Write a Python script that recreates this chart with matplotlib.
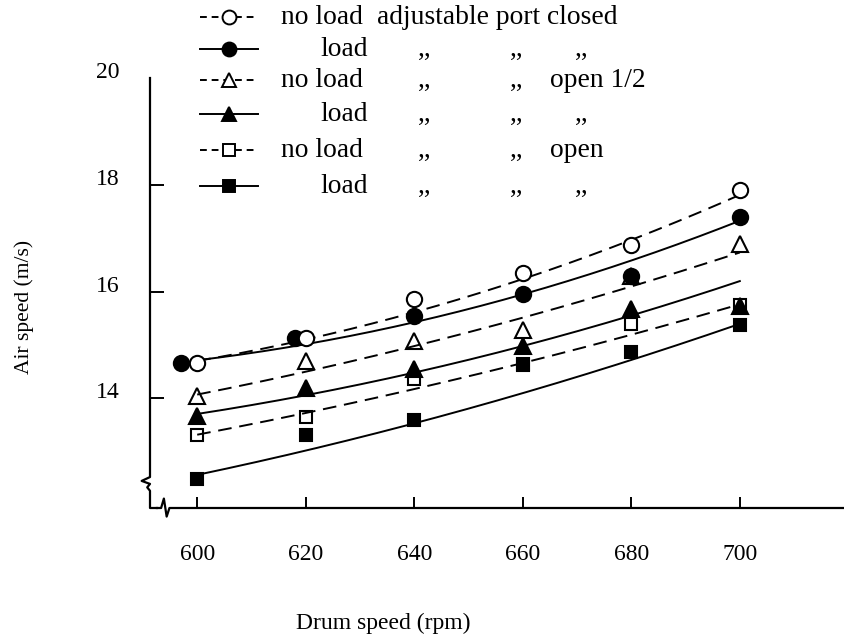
import matplotlib
matplotlib.use("Agg")
import matplotlib.pyplot as plt
from matplotlib.lines import Line2D
import numpy as np

plt.rcParams['font.family'] = ['Liberation Serif', 'DejaVu Serif']

# drum speed (rpm)
rpm = [600, 620, 640, 660, 680, 700]
# filled circles were drawn a bit left where they overlap the open ones
rpm_load_closed = [597, 618, 640, 660, 680, 700]

# measured air speed (m/s)
noload_closed = [14.67, 15.13, 15.86, 16.35, 16.88, 17.90]
load_closed = [14.67, 15.13, 15.54, 15.95, 16.30, 17.40]
noload_half = [14.05, 14.71, 15.08, 15.28, 16.30, 16.89]
load_half = [13.67, 14.19, 14.56, 14.99, 15.67, 15.73]
noload_open = [13.31, 13.65, 14.37, 14.65, 15.39, 15.75]
load_open = [12.49, 13.31, 13.59, 14.63, 14.87, 15.38]

# fitted curves at each drum speed
fit_noload_closed = [14.67, 15.12, 15.70, 16.22, 16.85, 17.88]
fit_load_closed = [14.67, 15.08, 15.46, 15.93, 16.50, 17.38]
fit_noload_half = [14.06, 14.52, 14.99, 15.51, 16.07, 16.75]
fit_load_half = [13.68, 14.09, 14.55, 14.92, 15.52, 16.23]
fit_noload_open = [13.34, 13.68, 14.21, 14.68, 15.17, 15.77]
fit_load_open = [12.60, 12.97, 13.53, 14.15, 14.71, 15.39]

W, H = 844, 641
fig = plt.figure(figsize=(W / 100, H / 100), dpi=100)
ax = fig.add_axes([150 / W, 1 - 508 / H, 694 / W, 430 / H])
ax.set_xlim(591.3, 719.2)
ax.set_ylim(11.95, 19.95)

dash = (7, 4)
series = [
    # x, points, fit, marker, filled, dashed
    (rpm, noload_half, fit_noload_half, '^', False, True),
    (rpm, noload_open, fit_noload_open, 's', False, True),
    (rpm_load_closed, load_closed, fit_load_closed, 'o', True, False),
    (rpm, noload_closed, fit_noload_closed, 'o', False, True),
    (rpm, load_half, fit_load_half, '^', True, False),
    (rpm, load_open, fit_load_open, 's', True, False),
]

xs = np.linspace(600, 700, 200)
for x, pts, fit, mk, filled, dashed in series:
    coef = np.polyfit(rpm, fit, 2)
    if dashed:
        ax.plot(xs, np.polyval(coef, xs), color='black', lw=1.4, dashes=dash, zorder=2)
    else:
        ax.plot(xs, np.polyval(coef, xs), color='black', lw=1.4, zorder=2)
    ms = 8.5 if mk == 's' else 11
    if mk == 's' and not filled:
        ms = 9
    ax.plot(x, pts, ls='none', marker=mk, ms=ms, mew=1.5, mec='black',
            mfc='black' if filled else ('white' if mk == 'o' else 'none'), zorder=3)

# axes styling
for s in ['top', 'right', 'left', 'bottom']:
    ax.spines[s].set_visible(False)
ax.set_xticks(rpm)
ax.set_yticks([14, 16, 18, 20])
ax.tick_params(axis='x', direction='in', length=8, width=1.4, pad=26, labelsize=17)
ax.tick_params(axis='y', direction='in', length=10, width=1.4, pad=22, labelsize=17)
for lab in ax.get_yticklabels():
    lab.set_verticalalignment('baseline')
ax.yaxis.get_major_ticks()[-1].tick1line.set_visible(False)

# axis lines with the break marks
ta = ax.transAxes
ax.plot([0, 0, -0.012, 0.0, -0.004, 0, 0, 0.010], [1, 0.072, 0.063, 0.056, 0.048, 0.040, 0, 0],
        color='black', lw=1.6, transform=ta, clip_on=False)
ax.plot([0.010, 0.016, 0.020, 0.024, 0.028, 1.0], [0, 0, 0.022, -0.02, 0, 0],
        color='black', lw=1.6, transform=ta, clip_on=False)

# axis titles
fig.text(383 / W, 1 - 623 / H, 'Drum speed (rpm)', ha='center', va='center', fontsize=17)
fig.text(24 / W, 1 - 307 / H, 'Air speed (m/s)', ha='center', va='center',
         rotation=90, fontsize=15.5)

# legend, drawn row by row to keep the column layout
leg_rows = [
    ('o', False, 'no load', 'adjustable port closed', None, None),
    ('o', True, 'load', ',,', ',,', ',,'),
    ('^', False, 'no load', ',,', ',,', 'open 1/2'),
    ('^', True, 'load', ',,', ',,', ',,'),
    ('s', False, 'no load', ',,', ',,', 'open'),
    ('s', True, 'load', ',,', ',,', ',,'),
]
row_y = [17, 49, 80, 114, 150, 186]
fs = 19.8
for (mk, filled, c1, c2, c3, c4), y in zip(leg_rows, row_y):
    fy = 1 - y / H
    line = Line2D([200 / W, 258 / W], [fy, fy], transform=fig.transFigure, color='black',
                  lw=1.4, marker=None)
    if not filled:
        line.set_dashes((3.5, 2.5))
    fig.add_artist(line)
    ms = 8 if mk == 's' else 10
    fig.add_artist(Line2D([229 / W], [fy], transform=fig.transFigure, ls='none', marker=mk,
                          ms=ms, mew=1.4, mec='black', mfc='black' if filled else 'white'))
    fb = 1 - (y + 7) / H
    if filled:
        fig.text(320 / W, fb, c1, va='baseline', fontsize=fs)
    else:
        fig.text(281 / W, fb, c1, va='baseline', fontsize=fs)
    if c3 is None:
        fig.text(377 / W, fb, c2, va='baseline', fontsize=fs)
        continue
    fig.text(418 / W, fb, c2, va='baseline', fontsize=fs)
    fig.text(510 / W, fb, c3, va='baseline', fontsize=fs)
    if c4 == ',,':
        fig.text(575 / W, fb, c4, va='baseline', fontsize=fs)
    else:
        fig.text(550 / W, fb, c4, va='baseline', fontsize=fs)

fig.savefig('out.png', dpi=100)
